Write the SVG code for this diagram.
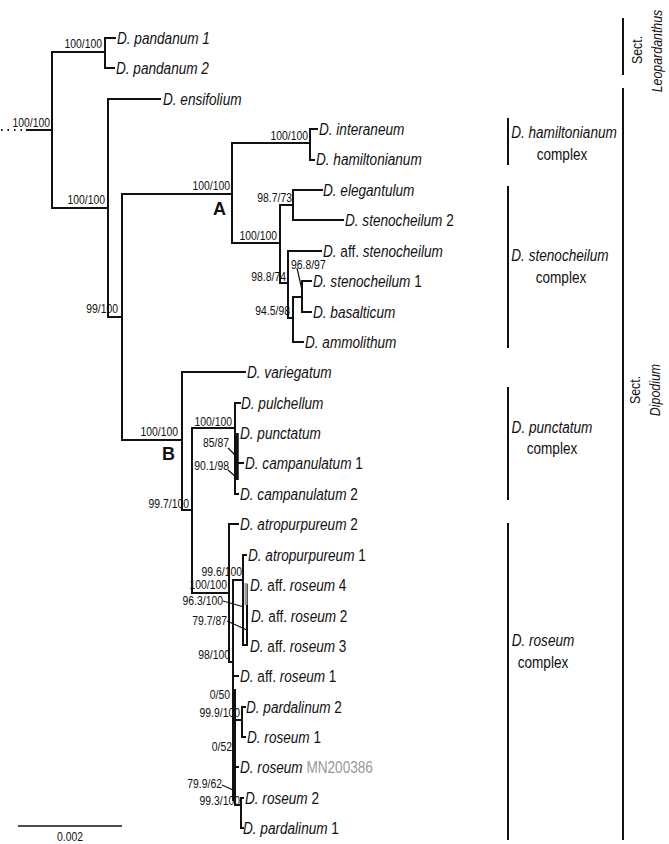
<svg xmlns="http://www.w3.org/2000/svg" width="669" height="844" viewBox="0 0 669 844">
<style>
text{font-family:"Liberation Sans",Arial,sans-serif;fill:#111}
.tip{font-size:17px;font-style:italic}
.up{font-style:normal}
.gr{font-style:normal;fill:#999}
.s{font-size:13px;text-anchor:end}
.ss{font-size:13px}
.cl{font-size:17px;text-anchor:middle}
.sec{font-size:15.5px;text-anchor:middle}
.big{font-size:18px;font-weight:bold}
.br{stroke:#111;stroke-width:2;fill:none;stroke-linecap:square}
.ld{stroke:#111;stroke-width:1.2;fill:none}
.bar{stroke:#111;stroke-width:2}
</style>
<rect width="669" height="844" fill="#fff"/>
<g id="connectors">
<path d="M1,130 H27" stroke="#111" stroke-width="2" stroke-dasharray="1.5 5" fill="none"/>
<path class="br" d="M27,130 H52 M52,52 V208 M52,52 H105 M105,38 V68 M105,38 H115 M105,68 H114 M52,208 H108 M108,99 V317 M108,99 H160 M108,317 H122 M122,194 V440 M122,194 H232 M232,143 V243 M232,143 H310 M310,129 V160 M310,129 H317 M310,160 H314 M232,243 H280 M280,205 V283 M280,205 H293 M293,190 V220 M293,190 H322 M293,220 H343 M280,283 H288 M288,251 V318 M288,251 H321 M288,318 H293 M293,297 V342 M293,297 H302 M302,281 V312 M302,281 H311 M302,312 H311 M293,342 H303"/>
<path class="br" d="M122,440 H182 M182,372 V510 M182,372 H245 M182,510 H192 M192,428 V593 M192,428 H235 M235,403 V494 M235,403 H240 M237,463 H243 M235,494 H238 M192,593 H229 M229,524 V662 M229,524 H238 M229,662 H233 M233,580 V800 M233,580 H243 M243,555 V645 M243,555 H246 M247,585 V645 M243,645 H247 M233,676 H238 M235,690 V805 M233,720 H242 M242,707 V737 M242,707 H245 M242,737 H245 M235,767 H238 M236,805 H241 M241,798 V828 M241,798 H243 M241,828 H243"/>
<path d="M237,433 V480" stroke="#111" stroke-width="3.5" fill="none"/>
<rect x="244.5" y="583" width="3" height="22" fill="#999"/>
<path class="ld" d="M297,268 L302,290 M228,448 L236,456 M228,470 L237,478 M223,601 L244,607 M227,621 L247,630 M222,785 L233,790"/>
</g>
<g id="tips">
<g id="t-pand1"><text class="tip" transform="translate(117,44) scale(0.8,1)">D. pandanum 1</text></g>
<g id="t-pand2"><text class="tip" transform="translate(116,74) scale(0.8,1)">D. pandanum 2</text></g>
<g id="t-ens"><text class="tip" transform="translate(163,105) scale(0.8,1)">D. ensifolium</text></g>
<g id="t-inter"><text class="tip" transform="translate(319,135) scale(0.8,1)">D. interaneum</text></g>
<g id="t-hamil"><text class="tip" transform="translate(316,165) scale(0.8,1)">D. hamiltonianum</text></g>
<g id="t-eleg"><text class="tip" transform="translate(323,196) scale(0.8,1)">D. elegantulum</text></g>
<g id="t-sten2"><text class="tip" transform="translate(345,226) scale(0.8,1)">D. stenocheilum<tspan class="up"> 2</tspan></text></g>
<g id="t-affsten"><text class="tip" transform="translate(323,257) scale(0.8,1)">D. <tspan class="up">aff.</tspan> stenocheilum</text></g>
<g id="t-sten1"><text class="tip" transform="translate(313,287) scale(0.8,1)">D. stenocheilum<tspan class="up"> 1</tspan></text></g>
<g id="t-basal"><text class="tip" transform="translate(313,318) scale(0.8,1)">D. basalticum</text></g>
<g id="t-ammo"><text class="tip" transform="translate(305,348) scale(0.8,1)">D. ammolithum</text></g>
<g id="t-varieg"><text class="tip" transform="translate(247,378) scale(0.8,1)">D. variegatum</text></g>
<g id="t-pulch"><text class="tip" transform="translate(241,409) scale(0.8,1)">D. pulchellum</text></g>
<g id="t-punct"><text class="tip" transform="translate(240,439) scale(0.8,1)">D. punctatum</text></g>
<g id="t-camp1"><text class="tip" transform="translate(245,469) scale(0.8,1)">D. campanulatum<tspan class="up"> 1</tspan></text></g>
<g id="t-camp2"><text class="tip" transform="translate(240,500) scale(0.8,1)">D. campanulatum<tspan class="up"> 2</tspan></text></g>
<g id="t-atro2"><text class="tip" transform="translate(240,530) scale(0.8,1)">D. atropurpureum<tspan class="up"> 2</tspan></text></g>
<g id="t-atro1"><text class="tip" transform="translate(248,561) scale(0.8,1)">D. atropurpureum<tspan class="up"> 1</tspan></text></g>
<g id="t-affros4"><text class="tip" transform="translate(250,591) scale(0.8,1)">D. <tspan class="up">aff.</tspan> roseum<tspan class="up"> 4</tspan></text></g>
<g id="t-affros2"><text class="tip" transform="translate(251,622) scale(0.8,1)">D. <tspan class="up">aff.</tspan> roseum<tspan class="up"> 2</tspan></text></g>
<g id="t-affros3"><text class="tip" transform="translate(250,652) scale(0.8,1)">D. <tspan class="up">aff.</tspan> roseum<tspan class="up"> 3</tspan></text></g>
<g id="t-affros1"><text class="tip" transform="translate(240,682) scale(0.8,1)">D. <tspan class="up">aff.</tspan> roseum<tspan class="up"> 1</tspan></text></g>
<g id="t-pard2"><text class="tip" transform="translate(246,713) scale(0.8,1)">D. pardalinum<tspan class="up"> 2</tspan></text></g>
<g id="t-ros1"><text class="tip" transform="translate(247,743) scale(0.8,1)">D. roseum<tspan class="up"> 1</tspan></text></g>
<g id="t-rosmn"><text class="tip" transform="translate(240,773) scale(0.8,1)">D. roseum<tspan class="gr"> MN200386</tspan></text></g>
<g id="t-ros2"><text class="tip" transform="translate(245,804) scale(0.8,1)">D. roseum<tspan class="up"> 2</tspan></text></g>
<g id="t-pard1"><text class="tip" transform="translate(243,834) scale(0.8,1)">D. pardalinum<tspan class="up"> 1</tspan></text></g>
</g>
<g id="support">
<text class="s" transform="translate(50,127) scale(0.8,1)">100/100</text>
<text class="s" transform="translate(102,48) scale(0.8,1)">100/100</text>
<text class="s" transform="translate(105,204) scale(0.8,1)">100/100</text>
<text class="s" transform="translate(308,140) scale(0.8,1)">100/100</text>
<text class="s" transform="translate(230,190) scale(0.8,1)">100/100</text>
<text class="s" transform="translate(292,202) scale(0.8,1)">98.7/73</text>
<text class="s" transform="translate(277,240) scale(0.8,1)">100/100</text>
<text class="s" transform="translate(286,281) scale(0.8,1)">98.8/74</text>
<text class="ss" transform="translate(291,269) scale(0.8,1)">96.8/97</text>
<text class="s" transform="translate(290,315) scale(0.8,1)">94.5/98</text>
<text class="s" transform="translate(118,313) scale(0.8,1)">99/100</text>
<text class="s" transform="translate(178,436) scale(0.8,1)">100/100</text>
<text class="s" transform="translate(189,508) scale(0.8,1)">99.7/100</text>
<text class="s" transform="translate(232,426) scale(0.8,1)">100/100</text>
<text class="s" transform="translate(229,447) scale(0.8,1)">85/87</text>
<text class="s" transform="translate(229,470) scale(0.8,1)">90.1/98</text>
<text class="s" transform="translate(242,576) scale(0.8,1)">99.6/100</text>
<text class="s" transform="translate(227,589) scale(0.8,1)">100/100</text>
<text class="s" transform="translate(223,605) scale(0.8,1)">96.3/100</text>
<text class="s" transform="translate(227,625) scale(0.8,1)">79.7/87</text>
<text class="s" transform="translate(230,659) scale(0.8,1)">98/100</text>
<text class="s" transform="translate(230,699) scale(0.8,1)">0/50</text>
<text class="s" transform="translate(240,717) scale(0.8,1)">99.9/100</text>
<text class="s" transform="translate(232,751) scale(0.8,1)">0/52</text>
<text class="s" transform="translate(222,788) scale(0.8,1)">79.9/62</text>
<text class="s" transform="translate(240,805) scale(0.8,1)">99.3/100</text>
<text class="big" x="213" y="215">A</text>
<text class="big" x="162" y="460">B</text>
</g>
<g id="groups">
<g id="g-hamil"><line class="bar" x1="508" y1="118" x2="508" y2="165"/><text class="cl" transform="translate(564,138) scale(0.8,1)"><tspan font-style="italic">D. hamiltonianum</tspan></text><text class="cl" transform="translate(562,160) scale(0.8,1)">complex</text></g>
<g id="g-sten"><line class="bar" x1="508" y1="186" x2="508" y2="348"/><text class="cl" transform="translate(560,261) scale(0.8,1)"><tspan font-style="italic">D. stenocheilum</tspan></text><text class="cl" transform="translate(561,283) scale(0.8,1)">complex</text></g>
<g id="g-punct"><line class="bar" x1="508" y1="387" x2="508" y2="500"/><text class="cl" transform="translate(552,433) scale(0.8,1)"><tspan font-style="italic">D. punctatum</tspan></text><text class="cl" transform="translate(552,454) scale(0.8,1)">complex</text></g>
<g id="g-roseum"><line class="bar" x1="508" y1="523" x2="508" y2="840"/><text class="cl" transform="translate(543,646) scale(0.8,1)"><tspan font-style="italic">D. roseum</tspan></text><text class="cl" transform="translate(543,668) scale(0.8,1)">complex</text></g>
<g id="g-leop"><line class="bar" x1="623" y1="18" x2="623" y2="75"/><text class="sec" transform="translate(642,50) rotate(-90) scale(0.8,1)">Sect.</text><text class="sec" transform="translate(662,51) rotate(-90) scale(0.8,1)" font-style="italic">Leopardanthus</text></g>
<g id="g-dipo"><line class="bar" x1="623" y1="88" x2="623" y2="840"/><text class="sec" transform="translate(640,390) rotate(-90) scale(0.8,1)">Sect.</text><text class="sec" transform="translate(660,390) rotate(-90) scale(0.8,1)" font-style="italic">Dipodium</text></g>
</g>
<g id="scale">
<line x1="18" y1="826" x2="122" y2="826" stroke="#111" stroke-width="1.5"/>
<text class="ss" transform="translate(70,841) scale(0.8,1)" text-anchor="middle">0.002</text>
</g>
</svg>
